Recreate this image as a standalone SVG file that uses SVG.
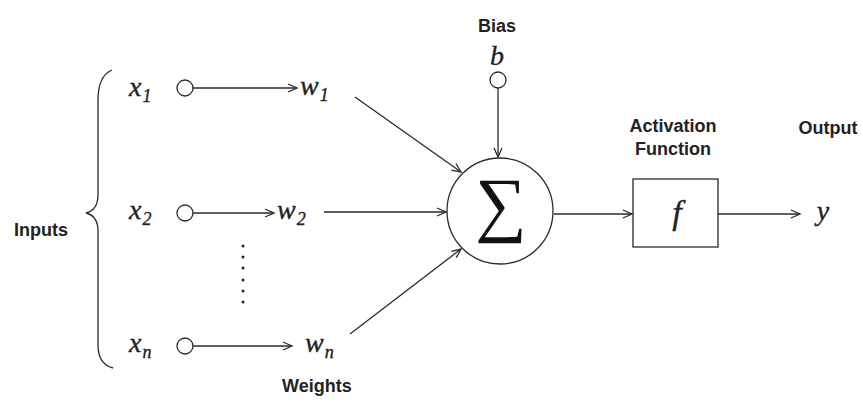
<svg xmlns="http://www.w3.org/2000/svg" width="863" height="402" viewBox="0 0 863 402">
<style>
.ln{stroke:#2a2a2a;stroke-width:1.3;fill:none}
.nd{stroke:#2a2a2a;stroke-width:1.3;fill:#fff}
.lbl{font-family:"Liberation Sans",Arial,sans-serif;font-weight:bold;font-size:18px;fill:#222}
.m{font-family:"Liberation Serif",serif;font-style:italic;font-size:28px;fill:#222;stroke:#222;stroke-width:0.35}
.s{font-size:18px}
</style>
<defs>
<marker id="ah" markerWidth="12" markerHeight="12" refX="10" refY="5" orient="auto" markerUnits="userSpaceOnUse">
<path d="M1,1 L10,5 L1,9" fill="none" stroke="#2a2a2a" stroke-width="1.3"/>
</marker>
</defs>
<rect width="863" height="402" fill="#fff"/>
<g id="inputs">
<path class="ln" d="M112,70 Q98,76 98,100 L98,195 Q98,210 86,213 Q98,216 98,231 L98,345 Q98,364 113,368"/>
<text class="lbl" x="14" y="236">Inputs</text>
</g>
<g id="x1">
<text class="m" font-family="Liberation Serif" x="129" y="96">x<tspan class="s" dx="1" dy="6">1</tspan></text>
<circle class="nd" cx="185" cy="88" r="8"/>
</g>
<g id="x2">
<text class="m" font-family="Liberation Serif" x="129" y="219">x<tspan class="s" dx="1" dy="6">2</tspan></text>
<circle class="nd" cx="185" cy="213" r="8"/>
</g>
<g id="xn">
<text class="m" font-family="Liberation Serif" x="129" y="352">x<tspan class="s" dx="1" dy="6">n</tspan></text>
<circle class="nd" cx="185" cy="346" r="8"/>
</g>
<g id="dots" fill="#222">
<circle cx="243" cy="246" r="1.5"/><circle cx="243" cy="257" r="1.5"/><circle cx="243" cy="268" r="1.5"/><circle cx="243" cy="280" r="1.5"/><circle cx="243" cy="291" r="1.5"/><circle cx="243" cy="302" r="1.5"/>
</g>
<g id="w1"><text class="m" font-family="Liberation Serif" x="300" y="95">w<tspan class="s" dx="1" dy="6">1</tspan></text></g>
<g id="w2"><text class="m" font-family="Liberation Serif" x="277" y="219">w<tspan class="s" dx="1" dy="6">2</tspan></text></g>
<g id="wn"><text class="m" font-family="Liberation Serif" x="305" y="352">w<tspan class="s" dx="1" dy="6">n</tspan></text></g>
<g id="weights"><text class="lbl" x="282" y="392">Weights</text></g>
<g id="bias">
<text class="lbl" x="497" y="32" text-anchor="middle">Bias</text>
<text class="m" font-family="Liberation Serif" x="497" y="65" text-anchor="middle">b</text>
<circle class="nd" cx="498" cy="80" r="8"/>
</g>
<g id="sum">
<circle class="nd" cx="500" cy="211" r="53"/>
<text x="501" y="228" text-anchor="middle" font-family="Liberation Serif" font-size="72" fill="#111">∑</text>
</g>
<g id="activation">
<text class="lbl" x="673" y="132" text-anchor="middle">Activation</text>
<text class="lbl" x="673" y="155" text-anchor="middle">Function</text>
<rect class="nd" x="633" y="179" width="85" height="68"/>
<text class="m" font-family="Liberation Serif" x="677" y="224" text-anchor="middle" style="font-size:34px">f</text>
</g>
<g id="output">
<text class="lbl" x="828" y="134" text-anchor="middle">Output</text>
<text class="m" font-family="Liberation Serif" x="823" y="220" text-anchor="middle">y</text>
</g>
<g id="connectors">
<line class="ln" x1="193" y1="88" x2="297" y2="88" marker-end="url(#ah)"/>
<line class="ln" x1="193" y1="213" x2="274" y2="213" marker-end="url(#ah)"/>
<line class="ln" x1="193" y1="346" x2="292" y2="346" marker-end="url(#ah)"/>
<line class="ln" x1="355" y1="97" x2="461" y2="172" marker-end="url(#ah)"/>
<line class="ln" x1="324" y1="212" x2="446" y2="212" marker-end="url(#ah)"/>
<line class="ln" x1="350" y1="334" x2="461" y2="249" marker-end="url(#ah)"/>
<line class="ln" x1="498" y1="88" x2="498" y2="157" marker-end="url(#ah)"/>
<line class="ln" x1="554" y1="214" x2="632" y2="214" marker-end="url(#ah)"/>
<line class="ln" x1="718" y1="214" x2="800" y2="214" marker-end="url(#ah)"/>
</g>
</svg>
